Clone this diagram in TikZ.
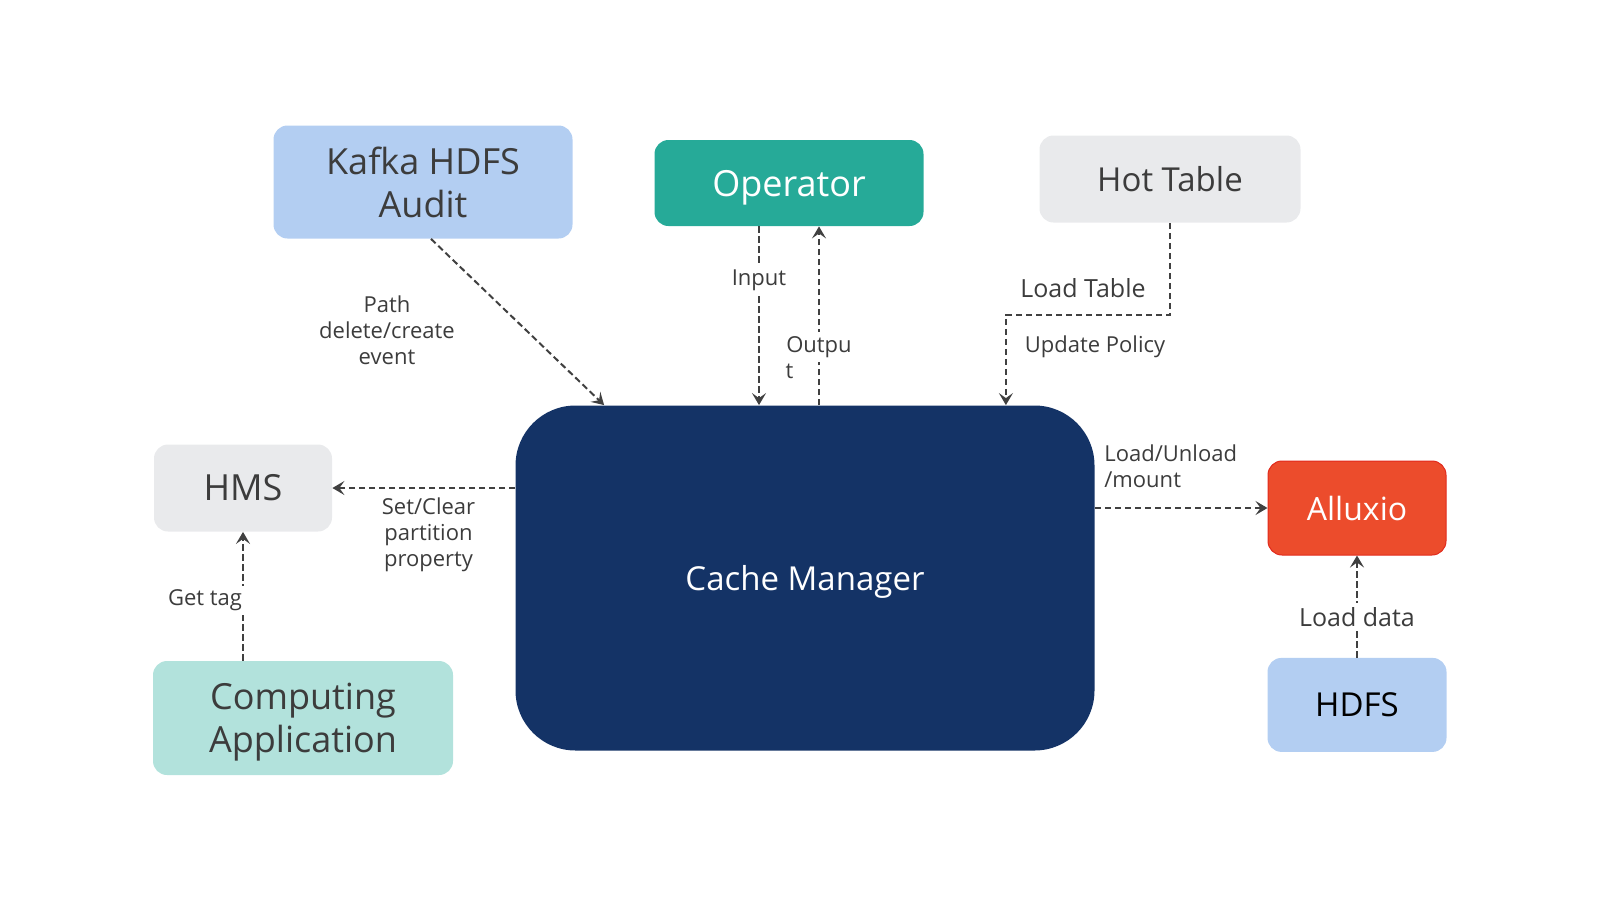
\documentclass[tikz,border=0pt]{standalone}
\usepackage{fontspec}
\setmainfont{Open Sans}
\usetikzlibrary{arrows.meta, positioning, calc}
\definecolor{kafkablue}{RGB}{179, 206, 242}
\definecolor{opteal}{RGB}{38, 170, 152}
\definecolor{hotgray}{RGB}{233, 234, 236}
\definecolor{appmint}{RGB}{178, 226, 220}
\definecolor{cmnavy}{RGB}{20, 51, 102}
\definecolor{alxred}{RGB}{236, 76, 44}
\definecolor{alxborder}{RGB}{226, 42, 28}
\definecolor{txtgray}{RGB}{60, 60, 60}
\definecolor{arrgray}{RGB}{64, 64, 64}

\begin{document}
\begin{tikzpicture}[
  x=0.5pt, y=-0.5pt,
  box/.style={rectangle, rounded corners=7pt, inner sep=0pt, align=center, text=txtgray},
  big/.style={font=\fontsize{18}{21.5}\selectfont},
  mid/.style={font=\fontsize{16.5}{20}\selectfont},
  lbl/.style={font=\fontsize{11}{13}\selectfont, text=txtgray, align=center, inner sep=2pt},
  lblbig/.style={lbl, font=\fontsize{12.5}{15}\selectfont},
  arrow/.style={-{Stealth[length=6pt, width=7pt, inset=2.5pt]}, line width=1pt,
                draw=arrgray, dash pattern=on 3.2pt off 1.8pt},
]
  \useasboundingbox (0,0) rectangle (1600,900);

  % Cache Manager
  \node[box, fill=cmnavy, rounded corners=30pt, minimum width=289.5pt, minimum height=172.5pt,
        mid, text=white, text depth=0pt] (cm) at (805,578) {Cache Manager};

  % top row
  \node[box, fill=kafkablue, minimum width=149.5pt, minimum height=56.5pt, big] (kafka)
        at (423,182) {Kafka HDFS\\Audit};
  \node[box, fill=opteal, minimum width=134.5pt, minimum height=43pt, big, text=white,
        text depth=0pt] (op) at (789,183) {Operator};
  \node[box, fill=hotgray, minimum width=130.5pt, minimum height=43.5pt, mid] (ht)
        at (1170,179) {Hot Table};

  % left side
  \node[box, fill=hotgray, minimum width=89pt, minimum height=43.5pt, big] (hms)
        at (243,488) {HMS};
  \node[box, fill=appmint, minimum width=150pt, minimum height=57pt, big,
        text depth=0pt] (capp) at (303,718) {Computing\\Application};

  % right side
  \node[box, fill=alxred, draw=alxborder, line width=0.5pt, minimum width=89pt, minimum height=47pt,
        font=\fontsize{16}{19}\selectfont, text=white] (alx) at (1357,508) {Alluxio};
  \node[box, fill=kafkablue, minimum width=89.5pt, minimum height=47pt, mid, text=black,
        below=51pt of alx] (hdfs) {HDFS};

  % connectors
  \draw[arrow] ($(kafka.south)+(8,0)$) -- ($(cm.north west)+(89,0)$);
  \node[lbl] (pathlbl) at (387,330) {Path\\delete/create\\event};

  \coordinate (inpt) at ($(op.south)+(-30,0)$);
  \draw[arrow] (inpt) -- node[lbl, fill=white, pos=0.3] {Input} (inpt |- cm.north);
  \coordinate (outp) at ($(op.south)+(30,0)$);
  \draw[arrow] (outp |- cm.north) -- node[lbl, fill=white, pos=0.325] (outlbl) {Outpu} (outp);
  \node[lbl, anchor=base west, inner sep=0pt] (outlbl2) at ($(outlbl.base west)+(4,26)$) {t};

  \coordinate (pol) at ($(cm.north east)+(-89,0)$);
  \draw[arrow] (ht.south) -- ++(0,92) -| (pol);
  \node[lblbig] (loadtbl) at (1083,288) {Load Table};
  \node[lbl] (updpol) at (1095,347) {Update Policy};

  \draw[arrow] (cm.west |- hms) -- (hms.east);
  \node[lbl] (setlbl) at (428.5,535) {Set/Clear\\partition\\property};

  \draw[arrow] (capp.north -| hms) -- node[lbl, fill=white, anchor=east, xshift=2pt, pos=0.47] {Get tag} (hms.south);

  \draw[arrow] (cm.east |- alx) -- (alx.west);
  \node[lbl, align=left, anchor=west] (mntlbl) at (1100,466) {Load/Unload\\/mount};

  \draw[arrow] (hdfs.north) -- node[lblbig, fill=white, pos=0.4] {Load data} (alx.south);
\end{tikzpicture}
\end{document}
